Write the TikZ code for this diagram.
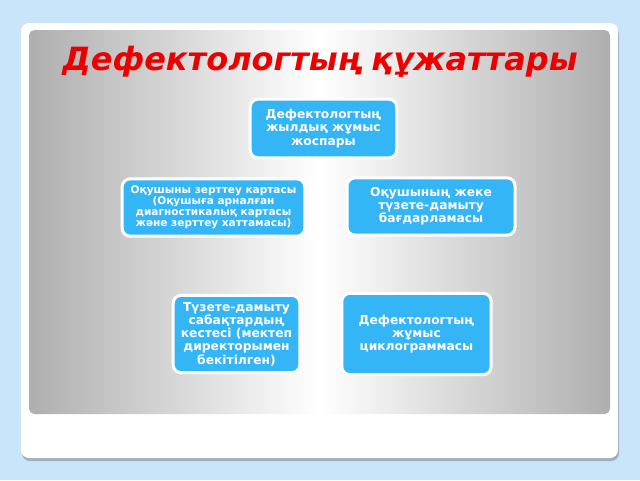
\documentclass[tikz,border=0pt]{standalone}
\usepackage{fontspec}
\setmainfont{DejaVu Sans}
\definecolor{pageblue}{RGB}{201,229,249}
\definecolor{boxblue}{RGB}{52,181,245}
\definecolor{panelgray}{RGB}{160,160,160}
\definecolor{titlered}{RGB}{235,0,0}
\pgfdeclarehorizontalshading{panelshade}{100bp}{
  color(0bp)=(panelgray); color(22bp)=(panelgray!95!white); color(50bp)=(white);
  color(78bp)=(panelgray!95!white); color(100bp)=(panelgray)}
\tikzset{every picture/.style={line width=0.75pt}}
\tikzset{
  docbox/.style={draw=white, line width=2.25pt, fill=boxblue, rounded corners=6pt,
    align=center, text=white, font=\bfseries\fontsize{9.2}{9.9}\selectfont, inner sep=2pt},
  smallbox/.style={docbox, font=\bfseries\fontsize{7.9}{8.3}\selectfont},
  titletext/.style={text=titlered, font=\bfseries\itshape\fontsize{24}{28}\selectfont}
}
\begin{document}
\begin{tikzpicture}[x=0.75pt,y=0.75pt,yscale=-1,xscale=1]
\useasboundingbox (0,0) rectangle (640,480);

%Shape: Page background
\fill [pageblue] (0,0) rectangle (640,480);
%Shape: Card shadow
\fill [rounded corners=6pt, color={rgb, 255:red, 160; green, 175; blue, 190 }] (22,26) rectangle (619,461);
%Shape: Card
\fill [white, rounded corners=6pt] (21,23) rectangle (618,458);
%Shape: Gray panel
\shade [rounded corners=4pt, shading=panelshade] (29,30) rectangle (610,414);

% Title
\node (title) [titletext] at (320,62) {Дефектологтың құжаттары};

% Document boxes
\node (plan) [docbox, minimum width=110pt, minimum height=44pt] at (323.5,128.5)
  {Дефектологтың\\жылдық жұмыс\\жоспары};
\node (study) [smallbox, minimum width=137pt, minimum height=43pt] at (213.5,207.5)
  {Оқушыны зерттеу картасы\\(Оқушыға арналған\\диагностикалық картасы\\және зерттеу хаттамасы)};
\node (program) [docbox, minimum width=126pt, minimum height=43pt] at (431,206.5)
  {Оқушының жеке\\түзете-дамыту\\бағдарламасы};
\node (schedule) [docbox, minimum width=95pt, minimum height=58pt] at (236.5,334)
  {Түзете-дамыту\\сабақтардың\\кестесі (мектеп\\директорымен\\бекітілген)};
\node (cyclogram) [docbox, minimum width=112pt, minimum height=61pt] at (416.5,334)
  {Дефектологтың\\жұмыс\\циклограммасы};

\end{tikzpicture}
\end{document}
